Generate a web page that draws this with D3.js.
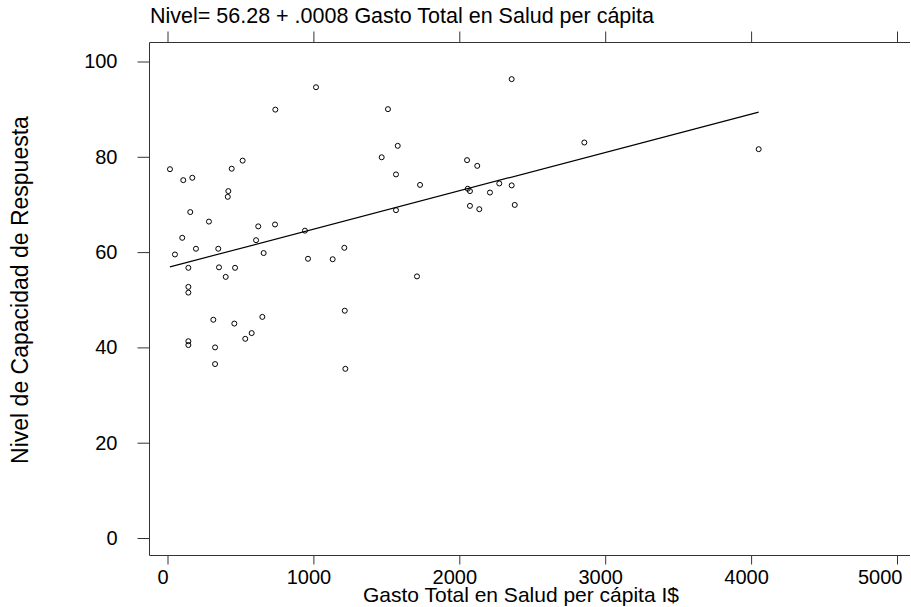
<!DOCTYPE html>
<html>
<head>
<meta charset="utf-8">
<script src="https://cdn.jsdelivr.net/npm/d3@7"></script>
<style>
  html, body { margin: 0; padding: 0; background: #fff; }
  svg { display: block; font-family: "Liberation Sans", Arial, sans-serif; }
</style>
</head>
<body>
<svg id="chart" width="911" height="607"></svg>
<script>
// ---- data ----
const gastoTotal = [17, 51, 101, 108, 143, 143, 143, 143, 143, 156, 170, 195, 284, 314, 326, 326, 348, 353, 399, 413, 417, 440, 458, 463, 515, 533, 577, 607, 622, 650, 659, 737, 739, 942, 963, 1018, 1132, 1212, 1215, 1219, 1468, 1511, 1566, 1566, 1578, 1710, 1731, 2053, 2058, 2073, 2073, 2123, 2137, 2210, 2274, 2359, 2359, 2380, 2857, 4052];
const nivel = [77.4, 59.5, 63.0, 75.1, 56.7, 52.7, 51.5, 41.3, 40.5, 68.4, 75.6, 60.7, 66.4, 45.8, 40.0, 36.5, 60.7, 56.8, 54.8, 71.6, 72.8, 77.5, 45.0, 56.7, 79.2, 41.8, 43.0, 62.5, 65.4, 46.4, 59.8, 65.8, 89.9, 64.5, 58.6, 94.6, 58.5, 60.9, 47.7, 35.5, 79.9, 90.0, 76.3, 68.8, 82.3, 54.9, 74.1, 79.3, 73.3, 72.8, 69.7, 78.1, 69.0, 72.5, 74.4, 96.3, 74.0, 69.9, 83.0, 81.6];
const fitCoef = [56.76, 0.00805]; // intercept, slope of drawn fitted line
const xTicks = [0, 1000, 2000, 3000, 4000, 5000];
const yTicks = [0, 20, 40, 60, 80, 100];
const titleText = "Nivel= 56.28 + .0008 Gasto Total en Salud per cápita";
const xTitle = "Gasto Total en Salud per cápita I$";
const yTitle = "Nivel de Capacidad de Respuesta";

// ---- layout ----
const W = 911;
const svg = d3.select("#chart");
const frame = {left: 149, right: 910, top: 42, bottom: 555};
const x = d3.scaleLinear().domain([0, 5000]).range([167.5, 897]);
const y = d3.scaleLinear().domain([0, 100]).range([538, 61.5]);

const axisColor = "#333";

// frame lines (left, top, bottom)
svg.append("path")
  .attr("d", `M${frame.right},${frame.top + 0.5}H${frame.left + 0.5}V${frame.bottom + 0.5}H${frame.right}`)
  .attr("fill", "none").attr("stroke", axisColor).attr("stroke-width", 1);

// bottom axis
const gx = svg.append("g").attr("transform", `translate(0,${frame.bottom + 0.5})`)
  .call(d3.axisBottom(x).tickValues(xTicks).tickSize(9).tickPadding(5).tickFormat(d3.format("d")));
gx.select(".domain").remove();
gx.selectAll("line").attr("stroke", axisColor);
gx.selectAll("text").attr("font-size", 20).attr("fill", "#000")
  .attr("font-family", "Liberation Sans, Arial, sans-serif")
  .attr("dx", -5);
// keep the last label inside the picture
gx.selectAll(".tick").each(function(d) {
  const t = d3.select(this).select("text");
  const bb = t.node().getBBox();
  const absRight = x(d) - 5 + bb.width / 2;
  if (absRight > W - 9) t.attr("dx", -5 - (absRight - (W - 9)));
});

// top axis (ticks only)
const gxt = svg.append("g").attr("transform", `translate(0,${frame.top + 0.5})`)
  .call(d3.axisTop(x).tickValues(xTicks).tickSize(11).tickFormat(""));
gxt.select(".domain").remove();
gxt.selectAll("line").attr("stroke", axisColor);

// left axis
const gy = svg.append("g").attr("transform", `translate(${frame.left + 0.5},0)`)
  .call(d3.axisLeft(y).tickValues(yTicks).tickSize(12).tickPadding(20).tickFormat(d3.format("d")));
gy.select(".domain").remove();
gy.selectAll("line").attr("stroke", axisColor);
gy.selectAll("text").attr("font-size", 20).attr("fill", "#000").attr("font-family", "Liberation Sans, Arial, sans-serif");

// fitted line
const xExt = d3.extent(gastoTotal);
const fitPts = xExt.map(v => [v, fitCoef[0] + fitCoef[1] * v]);
svg.append("path")
  .attr("d", d3.line().x(d => x(d[0])).y(d => y(d[1]))(fitPts))
  .attr("fill", "none").attr("stroke", "#000").attr("stroke-width", 1.2);

// points
svg.append("g").selectAll("circle")
  .data(gastoTotal.map((g, i) => ({g, n: nivel[i]})))
  .join("circle")
  .attr("cx", d => x(d.g)).attr("cy", d => y(d.n))
  .attr("r", 2.5).attr("fill", "none").attr("stroke", "#000").attr("stroke-width", 1);

// titles
svg.append("text").attr("x", 150).attr("y", 23).attr("font-size", 21.5).text(titleText);
svg.append("text").attr("x", 521).attr("y", 601.5).attr("text-anchor", "middle").attr("font-size", 21).text(xTitle);
svg.append("text").attr("transform", "translate(28,290) rotate(-90)").attr("text-anchor", "middle").attr("font-size", 23).text(yTitle);
</script>
</body>
</html>
